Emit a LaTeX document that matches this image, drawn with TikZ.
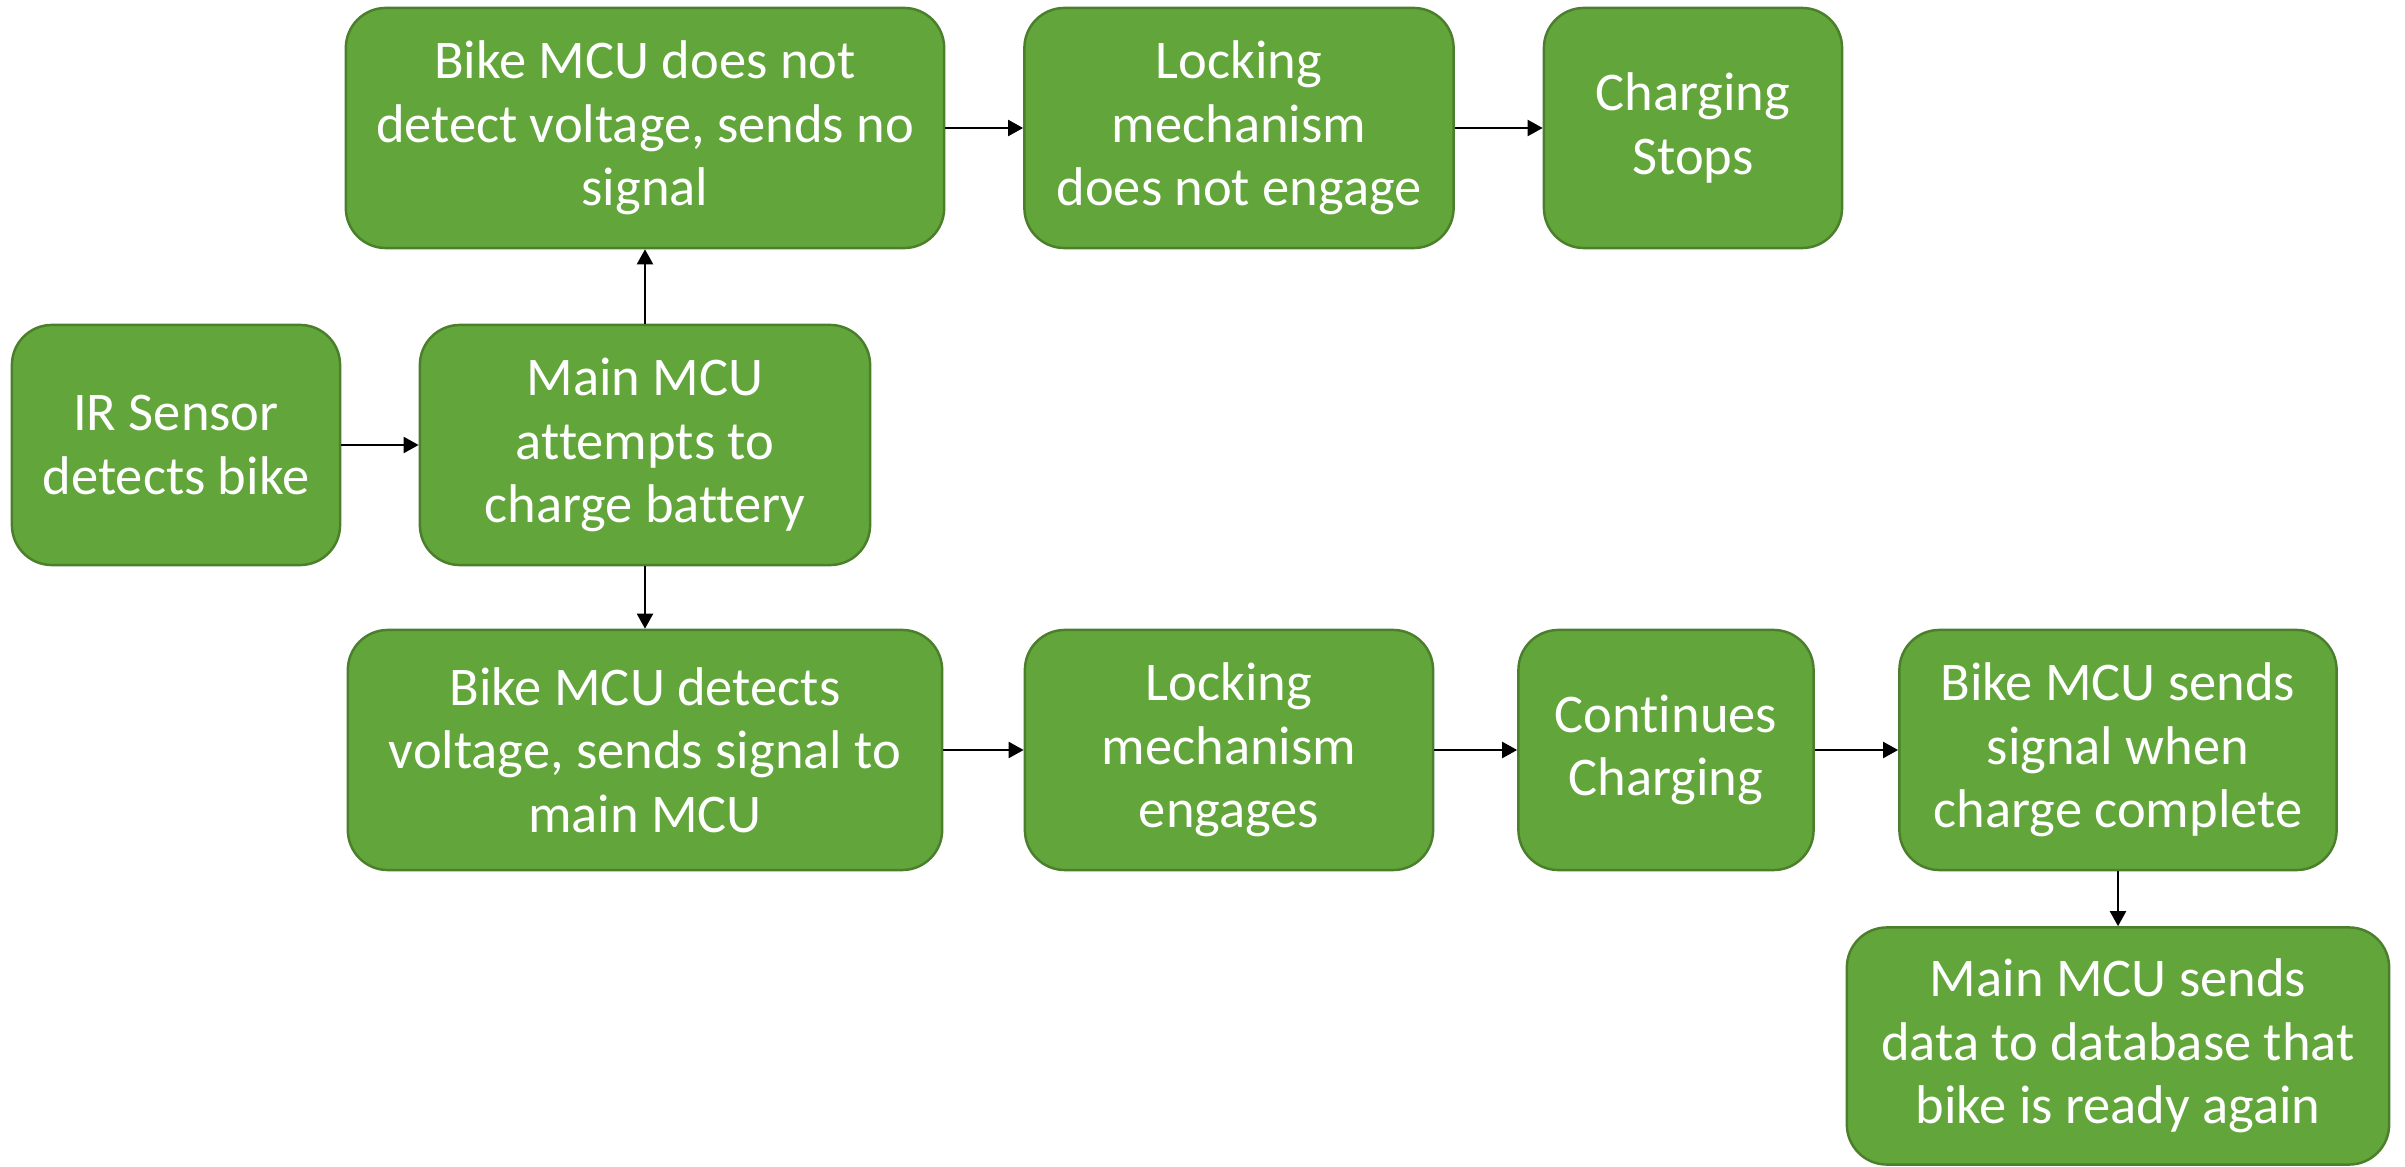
\documentclass[tikz,border=0pt]{standalone}
\usepackage{fontspec}
\setmainfont{Carlito}[Ligatures=NoCommon]
\usepackage{xcolor}
\usetikzlibrary{arrows.meta}

\definecolor{boxgreen}{HTML}{62A53A}
\definecolor{boxedge}{HTML}{4B7F2C}

\begin{document}
\begin{tikzpicture}[x=0.01cm, y=-0.01cm,
  block/.style={draw=boxedge, fill=boxgreen, line width=0.7pt, rounded corners=0.4cm,
    minimum height=2.4cm, inner sep=0pt, align=center, text=white,
    font=\fontsize{15.5}{18}\selectfont},
  flow/.style={-{Triangle[length=0.15cm, width=0.16cm]}, line width=0.6pt}]
  % Fix the page size
  \useasboundingbox (0,0) rectangle (2405,1167);

  % Middle row
  \node[block, minimum width=3.28cm] (ir) at (176,445) {IR Sensor\\detects bike};
  \node[block, minimum width=4.50cm] (main) at (645,445) {Main MCU\\attempts to\\charge battery};

  % Top row (no voltage)
  \node[block, minimum width=5.98cm] (nodetect) at (645,128) {Bike MCU does not\\detect voltage, sends no\\signal};
  \node[block, minimum width=4.29cm] (nolock) at (1239,128) {Locking\\mechanism\\does not engage};
  \node[block, minimum width=2.98cm] (stops) at (1693,128) {Charging\\Stops};

  % Bottom row (voltage found)
  \node[block, minimum width=5.94cm] (detect) at (645,750) {Bike MCU detects\\voltage, sends signal to\\main MCU};
  \node[block, minimum width=4.08cm] (lock) at (1229,750) {Locking\\mechanism\\engages};
  \node[block, minimum width=2.95cm] (cont) at (1666,750) {Continues\\Charging};
  \node[block, minimum width=4.37cm] (signal) at (2118,750) {Bike MCU sends\\signal when\\charge complete};
  \node[block, minimum width=5.42cm, minimum height=2.37cm] (database) at (2118,1046) {Main MCU sends\\data to database that\\bike is ready again};

  % Connectors
  \draw[flow] (ir) -- (main);
  \draw[flow] (main) -- (nodetect);
  \draw[flow] (main) -- (detect);
  \draw[flow] (nodetect) -- (nolock);
  \draw[flow] (nolock) -- (stops);
  \draw[flow] (detect) -- (lock);
  \draw[flow] (lock) -- (cont);
  \draw[flow] (cont) -- (signal);
  \draw[flow] (signal) -- (database);
\end{tikzpicture}
\end{document}
